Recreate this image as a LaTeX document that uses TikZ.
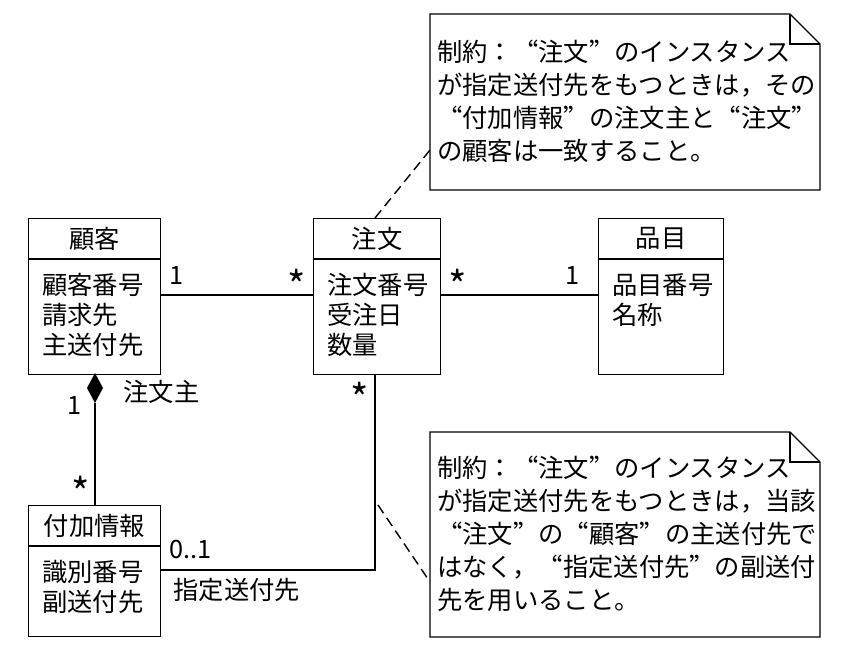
\documentclass[tikz,border=0pt]{standalone}
\usepackage{fontspec}
\setmainfont{Noto Sans CJK JP}
\newfontfamily\notefont[RawFeature=+fwid]{Noto Sans CJK JP}
\usetikzlibrary{positioning}
\tikzset{
	cls head/.style={draw,thick,minimum height=1cm,inner sep=0pt,font=\fontsize{18}{22}\selectfont},
	cls body/.style={draw,thick,minimum height=2.875cm,inner sep=0pt},
	attr/.style={align=left,inner sep=0pt,font=\fontsize{18}{21.3}\selectfont},
	note text/.style={align=left,inner sep=0pt,font=\notefont\fontsize{18}{23.4}\selectfont},
	mult/.style={inner sep=1pt,font=\fontsize{18}{22}\selectfont},
	star/.style={inner sep=0pt,font=\fontsize{28}{28}\selectfont},
	assoc/.style={thick},
	link/.style={semithick,line width=1pt,dash pattern=on 7pt off 4pt}
}
\begin{document}
\begin{tikzpicture}[x=0.025cm,y=-0.025cm]
    \useasboundingbox (0,0) rectangle (844,664);

    % classes
    \node[cls head,minimum width=3.3cm,anchor=north west] (kokyaku) at (28,218) {顧客};
    \node[cls body,minimum width=3.3cm,below=0pt of kokyaku] (kokyakuB) {};
    \node[attr,anchor=north west] at ([xshift=10pt,yshift=-10pt]kokyakuB.north west) {顧客番号\\請求先\\主送付先};

    \node[cls head,minimum width=3.175cm,anchor=north west] (chumon) at (313,218) {注文};
    \node[cls body,minimum width=3.175cm,below=0pt of chumon] (chumonB) {};
    \node[attr,anchor=north west] at ([xshift=10pt,yshift=-10pt]chumonB.north west) {注文番号\\受注日\\数量};

    \node[cls head,minimum width=3.125cm,anchor=north west] (hinmoku) at (598,218) {品目};
    \node[cls body,minimum width=3.125cm,below=0pt of hinmoku] (hinmokuB) {};
    \node[attr,anchor=north west] at ([xshift=10pt,yshift=-10pt]hinmokuB.north west) {品目番号\\名称};

    \node[cls head,minimum width=3.3cm,anchor=north west] (fuka) at (28,505) {付加情報};
    \node[cls body,minimum width=3.3cm,minimum height=2.25cm,below=0pt of fuka] (fukaB) {};
    \node[attr,anchor=north west] at ([xshift=10pt,yshift=-10pt]fukaB.north west) {識別番号\\副送付先};

    % notes
    \draw[thick] (430,14) -- (790,14) -- (820,44) -- (820,190) -- (430,190) -- cycle;
    \draw[thick] (790,14) -- (790,44) -- (820,44);
    \node[note text,anchor=north west] (note1) at (437,40)
        {制約：“注文”のインスタンス\\が指定送付先をもつときは，その\\“付加情報”の注文主と“注文”\\の顧客は一致すること。};
    \coordinate (n1) at (430,150);

    \draw[thick] (430,432) -- (790,432) -- (820,462) -- (820,637) -- (430,637) -- cycle;
    \draw[thick] (790,432) -- (790,462) -- (820,462);
    \node[note text,anchor=north west] (note2) at (437,456)
        {制約：“注文”のインスタンス\\が指定送付先をもつときは，当該\\“注文”の“顧客”の主送付先で\\はなく，“指定送付先”の副送付\\先を用いること。};
    \coordinate (n2) at (430,582);

    % associations
    \draw[assoc] (kokyakuB.east |- 0,295) -- (chumonB.west |- 0,295);
    \draw[assoc] (chumonB.east |- 0,295) -- (hinmokuB.west |- 0,295);
    \node[mult] at (177,275) {1};
    \node[star] at (297,285) {*};
    \node[star] at (458,285) {*};
    \node[mult] at (573,275) {1};

    % composition
    \coordinate (dia) at (95,403);
    \fill (95,373) -- (103,388) -- (95,403) -- (87,388) -- cycle;
    \draw[assoc] (dia) -- (fuka.north -| dia);
    \node[mult] at (75,405) {1};
    \node[mult,anchor=west] at (122,392) {注文主};
    \node[star] at (81,492) {*};

    % shitei soufusaki
    \coordinate (bend) at (375,570);
    \draw[assoc] (chumonB.south -| bend) -- (bend) -- (fukaB.east |- bend);
    \node[star] at (360,398) {*};
    \node[mult,anchor=west] at (168,549) {0..1};
    \node[mult,anchor=west] at (172,590) {指定送付先};

    % constraint links
    \draw[link] (chumon.north -| bend) -- (n1);
    \draw[link] (378,505) -- (n2);
\end{tikzpicture}
\end{document}
